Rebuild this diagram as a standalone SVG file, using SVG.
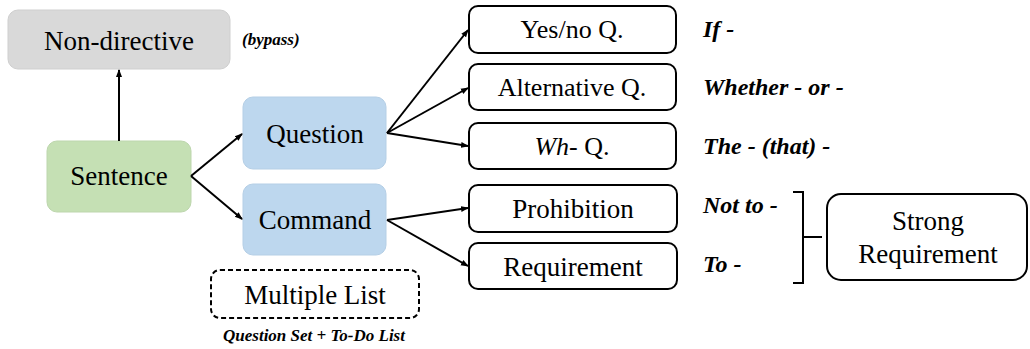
<svg xmlns="http://www.w3.org/2000/svg" width="1030" height="349" viewBox="0 0 1030 349">
<style>
.lbl{font-family:'Liberation Serif','Times New Roman',serif;font-size:27px;fill:#000;text-anchor:middle}
.sm{font-size:26px}
.note{font-family:'Liberation Serif','Times New Roman',serif;font-weight:bold;font-style:italic;fill:#000}
.box{fill:#fff;stroke:#000;stroke-width:2}
.edge{stroke:#000;stroke-width:2;fill:none}
</style>
<defs>
<marker id="ah" markerWidth="8" markerHeight="8" refX="7" refY="4" orient="auto" markerUnits="userSpaceOnUse">
<path d="M0,1 L8,4 L0,7 Z" fill="#000"/>
</marker>
</defs>
<g id="nondirective">
<rect x="8" y="10" width="222" height="59" rx="10" fill="#d9d9d9" stroke="#cfcfcf" stroke-width="1"/>
<text class="lbl" x="119" y="50">Non-directive</text>
</g>
<text class="note" x="242" y="45" font-size="17">(bypass)</text>
<g id="sentence">
<rect x="47" y="141" width="144" height="71" rx="10" fill="#c5e0b4" stroke="#bdd6ad" stroke-width="1"/>
<text class="lbl" x="119" y="185">Sentence</text>
</g>
<g id="question">
<rect x="243" y="97" width="143" height="72" rx="10" fill="#bdd7ee" stroke="#b5cfe6" stroke-width="1"/>
<text class="lbl" x="315" y="143">Question</text>
</g>
<g id="command">
<rect x="243" y="184" width="143" height="71" rx="10" fill="#bdd7ee" stroke="#b5cfe6" stroke-width="1"/>
<text class="lbl" x="315" y="229">Command</text>
</g>
<g id="multiplelist">
<rect x="211" y="270" width="208" height="48" rx="9" fill="#fff" stroke="#000" stroke-width="2" stroke-dasharray="5,3"/>
<text class="lbl" x="315" y="304">Multiple List</text>
</g>
<text class="note" x="314" y="341" font-size="17" text-anchor="middle">Question Set + To-Do List</text>
<g id="yesno">
<rect class="box" x="469" y="6" width="207" height="47" rx="9"/>
<text class="lbl sm" x="572" y="38">Yes/no Q.</text>
</g>
<g id="alternative">
<rect class="box" x="469" y="64" width="207" height="46" rx="9"/>
<text class="lbl sm" x="572" y="96">Alternative Q.</text>
</g>
<g id="wh">
<rect class="box" x="469" y="123" width="207" height="46" rx="9"/>
<text class="lbl sm" x="572" y="155"><tspan font-style="italic">Wh</tspan>- Q.</text>
</g>
<g id="prohibition">
<rect class="box" x="469" y="185" width="208" height="47" rx="9"/>
<text class="lbl" x="573" y="218">Prohibition</text>
</g>
<g id="requirement">
<rect class="box" x="469" y="243" width="208" height="46" rx="9"/>
<text class="lbl" x="573" y="276">Requirement</text>
</g>
<g id="strong">
<rect class="box" x="827" y="194" width="200" height="86" rx="14"/>
<text class="lbl" x="928" y="230">Strong</text>
<text class="lbl" x="928" y="263">Requirement</text>
</g>
<g id="notes">
<text class="note" x="703" y="37" font-size="24">If -</text>
<text class="note" x="703" y="95" font-size="24">Whether - or -</text>
<text class="note" x="703" y="154" font-size="24">The - (that) -</text>
<text class="note" x="703" y="213" font-size="24">Not to -</text>
<text class="note" x="703" y="272" font-size="24">To -</text>
</g>
<g id="connectors">
<line class="edge" x1="119" y1="141" x2="119" y2="70" marker-end="url(#ah)"/>
<line class="edge" x1="191" y1="176" x2="242" y2="134" marker-end="url(#ah)"/>
<line class="edge" x1="191" y1="176" x2="242" y2="219" marker-end="url(#ah)"/>
<line class="edge" x1="387" y1="133" x2="468" y2="30" marker-end="url(#ah)"/>
<line class="edge" x1="387" y1="133" x2="468" y2="88" marker-end="url(#ah)"/>
<line class="edge" x1="387" y1="133" x2="468" y2="146" marker-end="url(#ah)"/>
<line class="edge" x1="387" y1="220" x2="468" y2="208" marker-end="url(#ah)"/>
<line class="edge" x1="387" y1="220" x2="468" y2="266" marker-end="url(#ah)"/>
<path class="edge" d="M793,192 H803 V283 H793 M803,237 H822"/>
</g>
</svg>
